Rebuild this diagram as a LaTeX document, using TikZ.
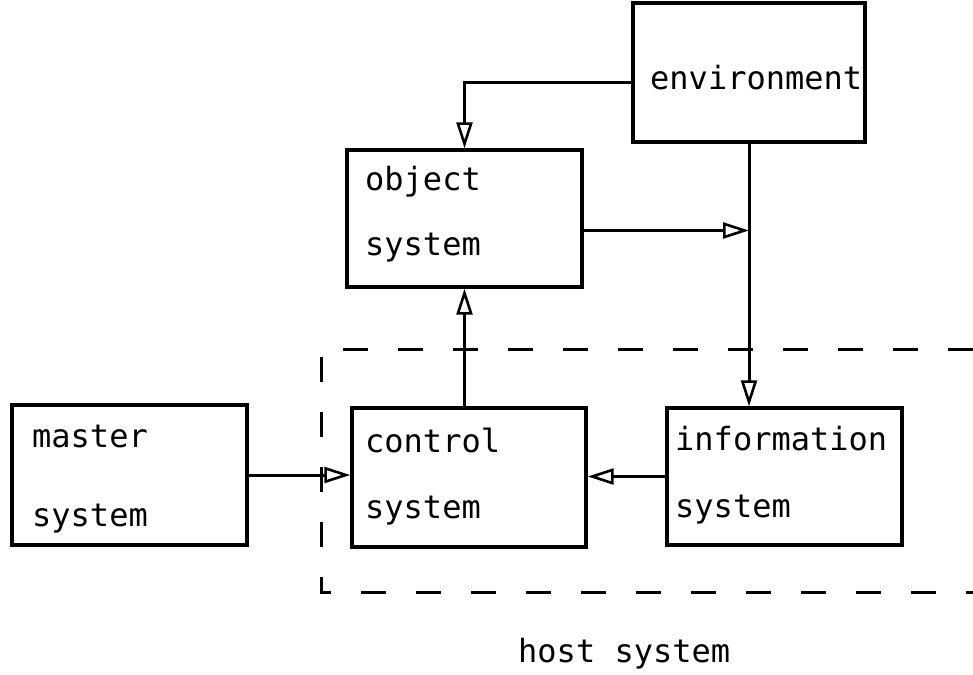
\documentclass[tikz,border=0pt]{standalone}
\usepackage{fontspec}
\setmonofont{DejaVu Sans Mono}
\usetikzlibrary{arrows.meta}

\tikzset{
  sysbox/.style={draw, line width=3.4pt, inner sep=0pt},
  boxtext/.style={anchor=base west, inner sep=0pt, font=\ttfamily\fontsize{32}{38}\selectfont},
  flow/.style={line width=3pt, -{Triangle[open,length=26pt,width=16pt,line width=2.6pt]}},
  hostline/.style={line width=3pt, dash pattern=on 25pt off 30pt}
}

\begin{document}
\begin{tikzpicture}[x=1pt,y=-1pt]
\useasboundingbox (0,0) rectangle (973,674);

% the five systems
\node[sysbox, minimum width=232pt, minimum height=139pt] (env) at (749,72.5) {};
\node[sysbox, minimum width=235pt, minimum height=137pt] (obj) at (464.5,218.5) {};
\node[sysbox, minimum width=235pt, minimum height=140pt] (master) at (129.5,475) {};
\node[sysbox, minimum width=234pt, minimum height=139pt] (ctrl) at (469,477.5) {};
\node[sysbox, minimum width=235pt, minimum height=137pt] (info) at (784.5,476.5) {};

% labels
\node[boxtext] (t1) at (650,90) {environment};
\node[boxtext] (t2) at (365,190) {object};
\node[boxtext] (t3) at (365,255) {system};
\node[boxtext] (t4) at (32,447) {master};
\node[boxtext] (t5) at (32,526) {system};
\node[boxtext] (t6) at (365,452) {control};
\node[boxtext] (t7) at (365,518) {system};
\node[boxtext] (t8) at (675,450) {information};
\node[boxtext] (t9) at (675,517) {system};
\node[boxtext] (t10) at (518,662) {host system};

% host system boundary
\draw[hostline] (973,349) -- (321,349) -- (321,592) -- (973,592);

% connections
\coordinate (tap) at ([yshift=-12pt]obj.east -| env.south);
\draw[flow] ([yshift=-10pt]env.west) -| (obj.north);
\draw[flow] ([yshift=-12pt]obj.east) -- (tap);
\draw[flow] (env.south) -- (env.south |- info.north);
\draw[flow] (obj.south |- ctrl.north) -- (obj.south);
\draw[flow] (info.west) -- (info.west -| ctrl.east);
\draw[flow] (master.east) -- (master.east -| ctrl.west);
\end{tikzpicture}
\end{document}
